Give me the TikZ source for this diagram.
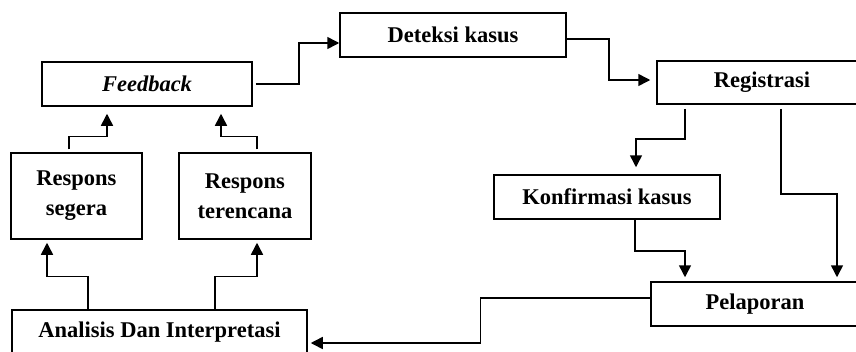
\documentclass[tikz,border=0pt]{standalone}
\usepackage{fontspec}
\setmainfont{Liberation Serif}
\usetikzlibrary{arrows.meta}

\tikzset{
    box/.style={draw,line width=1.5pt,inner sep=0pt,align=center,
        font=\fontsize{22.5}{30}\selectfont\bfseries},
    arr/.style={line width=1.5pt,-{Triangle[length=12pt,width=12pt]},shorten >=4pt}
}

\begin{document}
\begin{tikzpicture}[x=1pt,y=-1pt]
    \clip (0,0) rectangle (856,351);
    \fill[white] (0,0) rectangle (856,351);

    % Top row
    \node[box,minimum width=210pt,minimum height=44pt] (feedback) at (147,84) {\textit{Feedback}};
    \node[box,minimum width=226pt,minimum height=44pt] (deteksi) at (453,35) {Deteksi kasus};
    \node[box,minimum width=210pt,minimum height=43pt] (registrasi) at (762,82.5) {Registrasi};

    % Responses
    \node[box,minimum width=131pt,minimum height=86pt] (segera) at (76.5,196) {Respons\\segera};
    \node[box,minimum width=132pt,minimum height=86pt] (terencana) at (245,196) {Respons\\terencana};

    % Right side
    \node[box,minimum width=226pt,minimum height=44pt] (konfirmasi) at (607,197) {Konfirmasi kasus};
    \node[box,minimum width=208pt,minimum height=44pt] (pelaporan) at (755,304) {Pelaporan};

    % Bottom
    \node[box,minimum width=295pt,minimum height=44pt] (analisis) at (159.5,332) {Analisis Dan Interpretasi};

    % Connectors
    \draw[arr,shorten >=0pt] ([xshift=3pt]feedback.east) -- ++(43,0) |- ([yshift=-8pt]deteksi.west);
    \draw[arr,shorten >=6pt] ([yshift=-4pt]deteksi.east) -- ++(42,0) |- ([yshift=2.5pt]registrasi.west);
    \draw[arr,shorten >=7pt] ([xshift=-77pt,yshift=-4pt]registrasi.south) -- ++(0,30) -| ([xshift=29pt]konfirmasi.north);
    \draw[arr] ([xshift=19pt,yshift=-4pt]registrasi.south) -- ++(0,85) -| ([xshift=82pt]pelaporan.north);
    \draw[arr] ([xshift=28pt]konfirmasi.south) -- ++(0,31) -| ([xshift=-70pt]pelaporan.north);
    \draw[arr,shorten >=3pt] ([yshift=6pt]pelaporan.west) -- ++(-170,0) |- ([yshift=-11pt]analisis.east);
    \draw[arr,shorten >=3pt] ([xshift=-71.5pt]analisis.north) -- ++(0,-33) -| ([xshift=-29.5pt]segera.south);
    \draw[arr,shorten >=3pt] ([xshift=55.5pt]analisis.north) -- ++(0,-33) -| ([xshift=12pt]terencana.south);
    \draw[arr,shorten >=7pt] ([xshift=-7.5pt,yshift=3pt]segera.north) -- ++(0,-13) -| ([xshift=-40pt]feedback.south);
    \draw[arr,shorten >=7pt] ([xshift=12pt,yshift=3pt]terencana.north) -- ++(0,-13) -| ([xshift=74pt]feedback.south);
\end{tikzpicture}
\end{document}
